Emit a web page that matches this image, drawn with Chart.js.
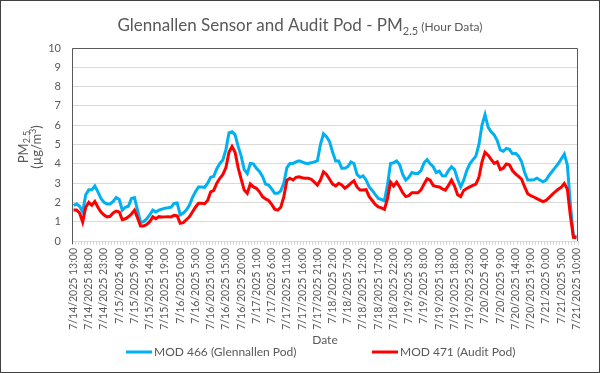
<!DOCTYPE html>
<html>
<head>
<meta charset="utf-8">
<script src="https://cdn.jsdelivr.net/npm/chart.js@4"></script>
<style>
  body { margin: 0; background: #fff; }
  canvas { display: block; }
</style>
</head>
<body>
<canvas id="lineChart" width="600" height="373"></canvas>
<script>
// hourly readings, 7/14/2025 13:00 to 7/21/2025 10:00
const startDay = 14;
const startHour = 13;
const hourCount = 166;

const seriesNames = ["MOD 466 (Glennallen Pod)", "MOD 471 (Audit Pod)"];
const seriesColors = ["#00B0F0", "#FF0000"];

const mod466 = [
  1.85, 1.92, 1.8, 1.5, 2.4, 2.65, 2.65, 2.85, 2.55, 2.2, 2.0, 1.92, 1.92, 2.05, 2.25, 2.15, 1.6, 1.75, 1.8, 2.2, 2.25, 1.6, 0.95, 1.0, 1.15, 1.35, 1.6, 1.5,
  1.6, 1.65, 1.7, 1.72, 1.75, 1.95, 1.97, 1.35, 1.45, 1.6, 1.85, 2.25, 2.55, 2.8, 2.8, 2.78, 3.0, 3.3, 3.35, 3.75, 4.02, 4.2, 4.75, 5.6, 5.66, 5.5, 4.9,
  4.4, 3.7, 3.5, 4.02, 4.0, 3.77, 3.6, 3.35, 2.95, 2.9, 2.7, 2.47, 2.47, 2.6, 3.0, 3.8, 4.02, 4.02, 4.1, 4.15, 4.1, 4.03, 4.02, 4.05, 4.1, 4.15, 5.0, 5.55,
  5.4, 5.15, 4.6, 4.15, 4.15, 3.77, 3.77, 3.85, 4.1, 4.02, 3.45, 3.3, 3.37, 3.15, 2.8, 2.62, 2.4, 2.2, 2.15, 2.09, 2.9, 4.02, 4.05, 4.15, 3.95, 3.45, 3.16,
  3.3, 3.55, 3.5, 3.5, 3.65, 4.05, 4.22, 4.0, 3.85, 3.55, 3.62, 3.38, 3.37, 3.65, 3.85, 3.7, 3.2, 2.8, 3.15, 3.65, 4.0, 4.2, 4.4, 5.0, 6.0, 6.55, 5.9, 5.66,
  5.5, 5.2, 4.72, 4.65, 4.8, 4.75, 4.52, 4.54, 4.4, 4.1, 3.55, 3.16, 3.16, 3.17, 3.25, 3.16, 3.07, 3.15, 3.4, 3.6, 3.8, 4.0, 4.25, 4.5, 3.95, 1.9, 0.25, 0.25
];

const mod471 = [
  1.6, 1.6, 1.45, 0.98, 1.75, 2.0, 1.85, 2.05, 1.75, 1.5, 1.35, 1.25, 1.28, 1.45, 1.55, 1.5, 1.1, 1.15, 1.25, 1.4, 1.6, 1.2, 0.78, 0.78, 0.85, 1.0, 1.25, 1.15,
  1.26, 1.24, 1.25, 1.26, 1.25, 1.33, 1.3, 0.92, 0.95, 1.1, 1.25, 1.5, 1.75, 1.95, 1.95, 1.93, 2.1, 2.55, 2.62, 3.0, 3.25, 3.45, 3.8, 4.6, 4.9, 4.6, 3.8,
  3.2, 2.64, 2.47, 2.95, 2.8, 2.73, 2.55, 2.3, 2.18, 2.1, 1.9, 1.65, 1.6, 1.75, 2.3, 3.15, 3.25, 3.16, 3.3, 3.33, 3.28, 3.25, 3.25, 3.2, 3.05, 2.9, 3.16, 3.59,
  3.45, 3.2, 2.95, 2.85, 2.99, 2.9, 2.73, 2.85, 3.0, 3.12, 2.8, 2.64, 2.64, 2.66, 2.3, 2.1, 1.9, 1.77, 1.72, 1.64, 2.2, 3.05, 2.85, 3.05, 2.8, 2.5, 2.3,
  2.35, 2.5, 2.5, 2.5, 2.65, 2.95, 3.23, 3.15, 2.88, 2.82, 2.8, 2.7, 2.64, 2.88, 3.15, 2.85, 2.4, 2.3, 2.62, 2.72, 2.8, 2.88, 2.95, 3.3, 4.1, 4.6, 4.45, 4.23,
  4.02, 4.1, 3.7, 3.77, 3.99, 3.95, 3.65, 3.48, 3.35, 3.2, 2.8, 2.45, 2.35, 2.28, 2.2, 2.12, 2.04, 2.1, 2.25, 2.4, 2.55, 2.68, 2.78, 2.98, 2.7, 1.3, 0.19, 0.17
];

const yTicks = [0, 1, 2, 3, 4, 5, 6, 7, 8, 9, 10];
const labelEvery = 5;

// build the hourly category labels like "7/14/2025 13:00"
const labels = [];
for (let i = 0; i < hourCount; i++) {
  const h = startHour + i;
  labels.push("7/" + (startDay + Math.floor(h / 24)) + "/2025 " + (h % 24) + ":00");
}

const textColor = "#595959";
const fontFamily = "Lato, 'Open Sans', sans-serif";
Chart.defaults.font.family = fontFamily;
Chart.defaults.color = textColor;

// draw a row of text pieces (normal, subscript, superscript) centred on x
const drawRuns = (ctx, runs, x, y) => {
  let total = 0;
  for (const r of runs) {
    ctx.font = r.size + "px " + fontFamily;
    r.w = ctx.measureText(r.text).width;
    total += r.w;
  }
  let cx = x - total / 2;
  ctx.textAlign = "left";
  for (const r of runs) {
    ctx.font = r.size + "px " + fontFamily;
    ctx.fillText(r.text, cx, y + (r.dy || 0));
    cx += r.w;
  }
};

const extras = {
  id: "extras",
  beforeDraw(chart) {
    const ctx = chart.ctx;
    ctx.save();
    ctx.fillStyle = "#fff";
    ctx.fillRect(0, 0, chart.width, chart.height);
    ctx.restore();
  },
  afterDraw(chart) {
    const ctx = chart.ctx;
    const a = chart.chartArea;
    ctx.save();

    // plot area frame (bottom is the x axis line)
    ctx.strokeStyle = "#595959";
    ctx.lineWidth = 1;
    ctx.beginPath();
    ctx.moveTo(a.left + 0.5, a.bottom + 3);
    ctx.lineTo(a.left + 0.5, a.top + 0.5);
    ctx.lineTo(a.right - 0.5, a.top + 0.5);
    ctx.lineTo(a.right - 0.5, a.bottom);
    ctx.stroke();

    // outer border
    ctx.strokeStyle = "#404040";
    ctx.strokeRect(0.5, 0.5, chart.width - 1, chart.height - 1);

    ctx.fillStyle = textColor;
    ctx.textBaseline = "alphabetic";

    // title
    drawRuns(ctx, [
      { text: "Glennallen Sensor and Audit Pod - PM", size: 17 },
      { text: "2.5", size: 11, dy: 4 },
      { text: " (Hour Data)", size: 12 }
    ], 300, 31);

    // y axis title, rotated
    ctx.save();
    ctx.translate(24, 147);
    ctx.rotate(-Math.PI / 2);
    ctx.textBaseline = "middle";
    drawRuns(ctx, [
      { text: "PM", size: 13 },
      { text: "2.5", size: 9, dy: 3 }
    ], 0, 0);
    ctx.restore();

    ctx.save();
    ctx.translate(37, 147);
    ctx.rotate(-Math.PI / 2);
    ctx.textBaseline = "middle";
    drawRuns(ctx, [
      { text: "(\u00b5g/m", size: 13 },
      { text: "3", size: 9, dy: -4 },
      { text: ")", size: 13 }
    ], 0, 0);
    ctx.restore();

    // legend
    const legendX = [126, 372];
    const legendY = 352;
    ctx.textBaseline = "middle";
    ctx.textAlign = "left";
    ctx.font = "12px " + fontFamily;
    chart.data.datasets.forEach((ds, i) => {
      ctx.strokeStyle = ds.borderColor;
      ctx.lineWidth = 3;
      ctx.beginPath();
      ctx.moveTo(legendX[i], legendY);
      ctx.lineTo(legendX[i] + 26, legendY);
      ctx.stroke();
      ctx.fillStyle = textColor;
      ctx.fillText(ds.label, legendX[i] + 28, legendY);
    });

    ctx.restore();
  }
};

const ctx = document.getElementById("lineChart").getContext("2d");
new Chart(ctx, {
  type: "line",
  data: {
    labels: labels,
    datasets: [
      {
        label: seriesNames[0],
        data: mod466,
        borderColor: seriesColors[0],
        borderWidth: 3,
        pointRadius: 0,
        tension: 0,
        fill: false,
        order: 2,
      },
      {
        label: seriesNames[1],
        data: mod471,
        borderColor: seriesColors[1],
        borderWidth: 3,
        pointRadius: 0,
        tension: 0,
        fill: false,
        order: 1,
      },
    ],
  },
  options: {
    responsive: false,
    animation: false,
    devicePixelRatio: 1,
    layout: { padding: { left: 42, right: 22, top: 48, bottom: 20 } },
    plugins: {
      legend: { display: false },
      title: { display: false },
      tooltip: { enabled: false },
    },
    scales: {
      x: {
        offset: true,
        afterFit: (scale) => { scale.height = 112; },
        grid: {
          offset: true,
          drawOnChartArea: false,
          tickLength: 4,
          color: "#d9d9d9",
        },
        border: { display: true, color: "#d9d9d9" },
        ticks: {
          autoSkip: false,
          maxRotation: 90,
          minRotation: 90,
          padding: 3,
          color: textColor,
          font: { size: 10.5 },
          callback: function (value, index) {
            return index % labelEvery === 0 ? labels[index] : "";
          },
        },
        title: {
          display: true,
          text: "Date",
          color: textColor,
          font: { size: 12 },
          padding: { top: 0, bottom: 6 },
        },
      },
      y: {
        min: yTicks[0],
        max: yTicks[yTicks.length - 1],
        afterFit: (scale) => { scale.width = 30; },
        grid: { color: "#d9d9d9", drawTicks: false },
        border: { display: false },
        ticks: {
          stepSize: 1,
          padding: 11,
          color: textColor,
          font: { size: 11 },
        },
      },
    },
  },
  plugins: [extras],
});
</script>
</body>
</html>
